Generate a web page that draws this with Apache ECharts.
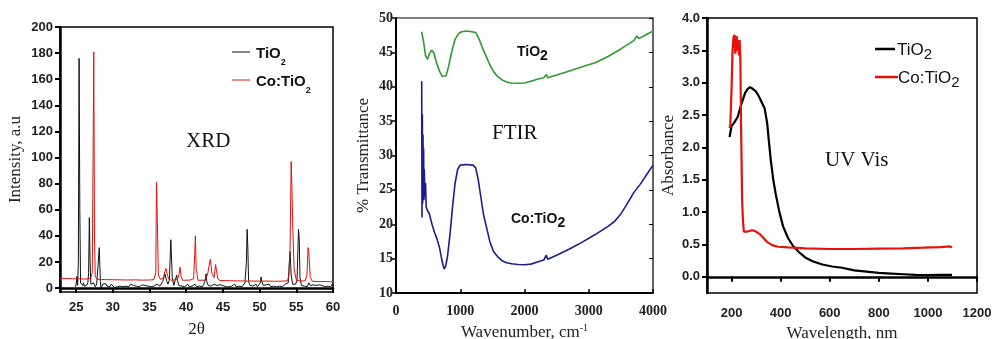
<!DOCTYPE html>
<html>
<head>
<meta charset="utf-8">
<script src="https://cdn.jsdelivr.net/npm/echarts@6/dist/echarts.min.js"></script>
<style>
  html, body { margin: 0; padding: 0; background: #fff; }
  #main { width: 992px; height: 339px; }
</style>
</head>
<body>
<div id="main"></div>
<script>
// ---- XRD panel: [2theta, intensity]
var xrdTicksX = [25, 30, 35, 40, 45, 50, 55, 60];
var xrdTicksY = [0, 20, 40, 60, 80, 100, 120, 140, 160, 180, 200];
var xrdTiO2 = [
  [24.9,1],[25.0,3],[25.1,9],[25.2,2],[25.3,20],[25.4,176],[25.5,60],[25.6,4],[25.7,5],[25.8,3],[25.9,2],[26.0,4],
  [26.1,1.5],[26.2,3],[26.4,2],[26.6,4],[26.7,12],[26.8,54],[26.9,20],[27.0,3],[27.2,2],[27.4,4],[27.6,1],[27.8,3],
  [28.0,4],[28.15,31],[28.3,5],[28.4,-1],[28.6,3],[28.8,2],[29.0,3.5],[29.2,1.5],[29.4,2.5],[29.6,1],[29.8,3],[30.0,2],
  [30.2,0.5],[30.4,2],[30.6,1],[30.8,2.5],[31.0,1.5],[31.2,3],[31.4,1],[31.6,2.5],[31.8,1.5],[32.0,2],[32.2,1],[32.4,3],
  [32.6,1.5],[32.8,2],[33.0,3.5],[33.2,1.5],[33.4,2.5],[33.6,1],[33.8,2],[34.0,2.5],[34.2,1],[34.4,2],[34.6,3],[34.8,1.5],
  [35.0,2],[35.2,1],[35.4,2.5],[35.6,1.5],[35.8,2],[36.0,3],[36.2,2],[36.4,1.5],[36.6,3],[36.8,5],[37.0,9],[37.1,11],
  [37.3,6],[37.5,3],[37.7,6],[37.9,37],[38.0,36],[38.1,8],[38.3,2],[38.5,3],[38.7,10],[38.8,6],[39.0,2],[39.2,3],
  [39.4,1.5],[39.6,2.5],[39.8,1],[40.0,2],[40.2,3],[40.4,1],[40.6,2.5],[40.8,1.5],[41.0,2],[41.2,3],[41.4,1],[41.6,2.5],
  [41.8,1.5],[42.0,2],[42.2,1],[42.4,3],[42.6,6],[42.7,11],[42.8,5],[43.0,2],[43.2,3],[43.4,1.5],[43.6,2],[43.8,3],
  [44.0,1.5],[44.2,2],[44.4,1],[44.6,2.5],[44.8,1.5],[45.0,2],[45.2,3],[45.4,1],[45.6,2],[45.8,1],[46.0,2.5],[46.2,1.5],
  [46.4,2],[46.6,3],[46.8,1],[47.0,2],[47.2,1.5],[47.4,2.5],[47.6,1],[47.8,2],[48.0,4],[48.2,20],[48.3,45],[48.4,30],
  [48.5,5],[48.7,2],[48.9,3],[49.1,1.5],[49.3,2],[49.5,3],[49.7,1],[49.9,2],[50.1,4],[50.2,8.5],[50.3,5],[50.5,2],
  [50.7,1],[50.9,2.5],[51.1,1.5],[51.3,3],[51.5,1],[51.7,2],[51.9,1.5],[52.1,3],[52.3,1],[52.5,2],[52.7,1.5],[52.9,2.5],
  [53.1,1],[53.3,2],[53.5,3],[53.7,1.5],[53.9,4],[54.05,20],[54.15,28],[54.3,10],[54.5,3],[54.7,2],[54.9,3],[55.1,6],
  [55.3,45],[55.4,38],[55.5,8],[55.7,2],[55.9,3],[56.1,1.5],[56.3,2],[56.5,1],[56.7,4],[56.9,2],[57.1,1],[57.3,2.5],
  [57.5,1.5],[57.7,2],[57.9,1],[58.1,2.5],[58.3,1.5],[58.5,2],[58.7,3],[58.9,1],[59.1,2],[59.3,1.5],[59.5,2.5],[59.7,1],
  [59.9,3],[60,2]
];
var xrdCoTiO2 = [
  [22.8,7.5],[23.5,7.4],[24.0,7.3],[24.5,7.2],[25.0,7.0],[25.5,7.1],[26.0,6.9],[26.5,7.0],[27.0,7.5],[27.2,12],[27.3,95],
  [27.4,181],[27.5,40],[27.6,9],[27.8,6.8],[28.5,6.6],[29,6.5],[30,6.4],[31,6.3],[32,6.2],[33,6.3],[34,6.1],[35,6.2],
  [35.6,6.5],[35.85,12],[35.95,81],[36.05,55],[36.2,10],[36.5,6.5],[36.9,8],[37.1,13],[37.25,15],[37.4,11],[37.6,7],
  [38.0,6],[38.8,6.5],[39.0,10],[39.15,16],[39.3,9],[39.5,6],[40.5,6.1],[41.0,7],[41.15,25],[41.25,40],[41.35,15],
  [41.6,6],[42.5,6],[42.9,10],[43.2,20],[43.3,22],[43.5,11],[43.8,8],[44.0,18],[44.1,17],[44.3,7],[44.6,5.8],[46,5.6],
  [47,5.5],[48,5.4],[49,5.4],[50,5.3],[51,5.4],[52,5.2],[53,5.3],[53.8,5.5],[54.0,10],[54.15,30],[54.3,97],[54.4,78],
  [54.5,50],[54.7,15],[55.0,6],[55.5,5.5],[56.2,5.5],[56.45,10],[56.6,31],[56.7,28],[56.9,8],[57.2,5.2],[58,5],[59,5],[60,4.8]
];

// ---- FTIR panel: [wavenumber, %T]
var ftirTiO2 = [
  [400,48],[430,46.5],[460,44.5],[490,44],[520,44.8],[556,45.3],[590,44.9],[630,43.5],[680,42.2],[720,41.5],[750,41.3],
  [780,41.6],[820,43],[870,45.2],[920,46.9],[970,47.7],[1020,48],[1100,48.1],[1180,48],[1240,47.9],[1290,47],[1340,45.8],
  [1400,44.5],[1460,43.2],[1520,42.2],[1580,41.5],[1650,41],[1720,40.7],[1800,40.55],[1900,40.5],[2000,40.55],[2100,40.8],
  [2200,41.1],[2300,41.3],[2340,41.8],[2360,41.3],[2500,41.7],[2700,42.3],[2900,42.9],[3100,43.5],[3300,44.4],[3500,45.5],
  [3700,46.7],[3750,47.4],[3780,47],[3900,47.6],[4000,48.1]
];
var ftirCoTiO2 = [
  [400,40.8],[405,21],[410,36],[415,23],[420,33],[425,25],[430,31],[435,23.5],[440,28],[450,24],[460,26],[470,22.5],
  [490,22],[520,21.5],[560,20],[600,18.8],[640,17.8],[680,16.5],[720,14.5],[750,13.5],[770,13.8],[800,15.2],[840,18.5],
  [880,22.5],[920,26],[960,28],[1000,28.6],[1100,28.7],[1200,28.6],[1240,28.2],[1280,26.5],[1320,24],[1360,21.5],
  [1410,19.5],[1460,17.5],[1520,16],[1580,15.3],[1650,14.7],[1720,14.4],[1800,14.25],[1900,14.15],[2000,14.1],[2100,14.2],
  [2200,14.5],[2300,14.8],[2340,15.5],[2360,14.9],[2500,15.5],[2700,16.4],[2900,17.4],[3100,18.5],[3300,19.7],[3400,20.4],
  [3500,21.5],[3600,23],[3700,24.6],[3800,25.8],[3900,27.2],[4000,28.6]
];

// ---- UV-Vis panel: [wavelength nm, absorbance]
var uvTicksX = [200, 400, 600, 800, 1000, 1200];
var uvTicksY = [0, 0.5, 1, 1.5, 2, 2.5, 3, 3.5, 4];
var uvTiO2 = [
  [192,2.16],[200,2.33],[210,2.38],[225,2.47],[240,2.67],[255,2.84],[265,2.9],[275,2.93],[285,2.91],[298,2.87],[310,2.8],
  [325,2.68],[335,2.6],[345,2.38],[352,2.1],[360,1.8],[370,1.5],[380,1.28],[395,1.0],[410,0.78],[430,0.6],[450,0.48],
  [475,0.38],[500,0.3],[530,0.24],[570,0.19],[610,0.16],[650,0.14],[700,0.1],[750,0.08],[800,0.06],[850,0.05],[900,0.04],
  [950,0.03],[1000,0.025],[1050,0.03],[1098,0.03]
];
var uvCoTiO2 = [
  [192,2.3],[195,2.35],[200,2.9],[204,3.5],[208,3.7],[212,3.74],[215,3.45],[218,3.5],[221,3.72],[224,3.5],[227,3.66],
  [230,3.42],[233,3.66],[236,3.35],[239,2.3],[243,1.2],[246,0.9],[250,0.7],[265,0.7],[284,0.72],[300,0.7],[315,0.66],
  [330,0.6],[345,0.54],[365,0.49],[390,0.465],[430,0.455],[500,0.44],[600,0.43],[700,0.43],[800,0.435],[900,0.44],
  [980,0.45],[1050,0.46],[1090,0.47],[1098,0.45]
];

var sans = '"Liberation Sans", Arial, sans-serif';
var serif = '"Liberation Serif", "Times New Roman", serif';
var red = '#e3120b';

function plain(v) { return String(v); }

// text with a subscript "2"
function subText(x, y, str, size, subSize, lh, weight) {
  return {
    type: 'text', left: x, top: y,
    style: {
      text: str, font: weight + ' ' + size + 'px ' + sans, fill: '#111', lineHeight: lh,
      rich: { s: { font: weight + ' ' + subSize + 'px ' + sans, fill: '#111', verticalAlign: 'bottom', lineHeight: lh } }
    }
  };
}

var chart = echarts.init(document.getElementById('main'));
var option = {
  animation: false,
  backgroundColor: '#fff',
  grid: [
    { left: 60, top: 27, width: 273, height: 265, show: true, borderColor: '#000', borderWidth: 1.5, outerBoundsMode: 'none' },
    { left: 396, top: 18, width: 257, height: 275, show: true, borderColor: '#000', borderWidth: 1.2, outerBoundsMode: 'none' },
    { left: 707, top: 18, width: 270, height: 275, show: true, borderColor: '#000', borderWidth: 1.5, outerBoundsMode: 'none' }
  ],
  xAxis: [
    {
      gridIndex: 0, type: 'value', min: 22.8, max: 60,
      name: '2θ', nameLocation: 'middle', nameGap: 29,
      nameTextStyle: { fontFamily: serif, fontSize: 17, color: '#222' },
      axisLine: { lineStyle: { color: '#000', width: 2.5 } },
      axisTick: { customValues: xrdTicksX, length: 5, lineStyle: { color: '#000', width: 2 } },
      axisLabel: { customValues: xrdTicksX, fontFamily: sans, fontWeight: 'bold', fontSize: 13, color: '#222', margin: 9 },
      splitLine: { show: false }
    },
    {
      gridIndex: 1, type: 'value', min: 0, max: 4000, interval: 1000,
      name: 'Wavenumber, cm{sup|-1}', nameLocation: 'middle', nameGap: 24,
      nameTextStyle: { fontFamily: serif, fontSize: 17, color: '#222',
        rich: { sup: { fontFamily: serif, fontSize: 10, verticalAlign: 'top', padding: [0, 0, 10, 0], color: '#222' } } },
      axisLine: { lineStyle: { color: '#000', width: 2 } },
      axisTick: { inside: true, length: 4, lineStyle: { color: '#000', width: 1.5 } },
      axisLabel: { fontFamily: serif, fontWeight: 'bold', fontSize: 14, color: '#222', margin: 11, formatter: plain },
      splitLine: { show: false }
    },
    {
      gridIndex: 2, type: 'value', min: 100, max: 1200,
      name: 'Wavelength, nm', nameLocation: 'middle', nameGap: 32,
      nameTextStyle: { fontFamily: serif, fontSize: 17, color: '#222' },
      axisLine: { lineStyle: { color: '#000', width: 2.5 } },
      axisTick: { customValues: uvTicksX, length: 5, lineStyle: { color: '#000', width: 2 } },
      axisLabel: { customValues: uvTicksX, fontFamily: sans, fontWeight: 'bold', fontSize: 13, color: '#222', margin: 14, formatter: plain },
      splitLine: { show: false }
    }
  ],
  yAxis: [
    {
      gridIndex: 0, type: 'value', min: -3, max: 200,
      name: 'Intensity, a.u', nameLocation: 'middle', nameGap: 36,
      nameTextStyle: { fontFamily: serif, fontSize: 17, color: '#222' },
      axisLine: { lineStyle: { color: '#000', width: 2.5 } },
      axisTick: { customValues: xrdTicksY, length: 5, lineStyle: { color: '#000', width: 2 } },
      axisLabel: { customValues: xrdTicksY, fontFamily: sans, fontWeight: 'bold', fontSize: 13, color: '#222', margin: 7 },
      splitLine: { show: false }
    },
    {
      gridIndex: 1, type: 'value', min: 10, max: 50, interval: 5,
      name: '% Transmittance', nameLocation: 'middle', nameGap: 24,
      nameTextStyle: { fontFamily: serif, fontSize: 17, color: '#222' },
      axisLine: { lineStyle: { color: '#000', width: 2 } },
      axisTick: { length: 4, lineStyle: { color: '#000', width: 1.5 } },
      axisLabel: { fontFamily: serif, fontWeight: 'bold', fontSize: 14, color: '#222', margin: 3 },
      splitLine: { show: false }
    },
    {
      gridIndex: 1, type: 'value', min: 10, max: 50, interval: 5, position: 'right',
      axisLine: { show: false },
      axisTick: { inside: true, length: 4, lineStyle: { color: '#000', width: 1 } },
      axisLabel: { show: false },
      splitLine: { show: false }
    },
    {
      gridIndex: 2, type: 'value', min: -0.25, max: 4,
      name: 'Absorbance', nameLocation: 'middle', nameGap: 30,
      nameTextStyle: { fontFamily: serif, fontSize: 17, color: '#222' },
      axisLine: { lineStyle: { color: '#000', width: 2.5 } },
      axisTick: { customValues: uvTicksY, length: 5, lineStyle: { color: '#000', width: 2 } },
      axisLabel: { customValues: uvTicksY, fontFamily: sans, fontWeight: 'bold', fontSize: 13, color: '#222', margin: 7,
        formatter: function (v) { return v.toFixed(1); } },
      splitLine: { show: false }
    }
  ],
  graphic: [
    { type: 'text', left: 186, top: 131, style: { text: 'XRD', font: '21px ' + serif, fill: '#111' } },
    { type: 'text', left: 492, top: 123, style: { text: 'FTIR', font: '21px ' + serif, fill: '#111' } },
    { type: 'text', left: 825, top: 150, style: { text: 'UV Vis', font: '21px ' + serif, fill: '#111' } },
    // XRD legend
    { type: 'line', shape: { x1: 232, y1: 52, x2: 250, y2: 52 }, style: { stroke: '#111', lineWidth: 1 } },
    { type: 'line', shape: { x1: 232, y1: 80, x2: 250, y2: 80 }, style: { stroke: red, lineWidth: 1 } },
    subText(256, 41, 'TiO{s|2}', 15, 9, 26, 'bold'),
    subText(256, 69, 'Co:TiO{s|2}', 15, 9, 26, 'bold'),
    // FTIR curve labels
    subText(517, 42, 'TiO{s|2}', 14, 14, 21, 'bold'),
    subText(511, 209, 'Co:TiO{s|2}', 14, 14, 21, 'bold'),
    // UV legend
    { type: 'line', shape: { x1: 875, y1: 49, x2: 895, y2: 49 }, style: { stroke: '#000', lineWidth: 2.5 } },
    { type: 'line', shape: { x1: 875, y1: 77, x2: 898, y2: 77 }, style: { stroke: red, lineWidth: 2.5 } },
    subText(897, 38, 'TiO{s|2}', 17, 15, 24, 'normal'),
    subText(898, 66, 'Co:TiO{s|2}', 17, 15, 24, 'normal')
  ],
  series: [
    { name: 'TiO2 XRD', type: 'line', xAxisIndex: 0, yAxisIndex: 0, data: xrdTiO2, symbol: 'none',
      lineStyle: { color: '#111', width: 1 } },
    { name: 'Co:TiO2 XRD', type: 'line', xAxisIndex: 0, yAxisIndex: 0, data: xrdCoTiO2, symbol: 'none',
      lineStyle: { color: red, width: 1 } },
    { name: 'TiO2 FTIR', type: 'line', xAxisIndex: 1, yAxisIndex: 1, data: ftirTiO2, symbol: 'none',
      lineStyle: { color: '#2f9a2f', width: 1.6 } },
    { name: 'Co:TiO2 FTIR', type: 'line', xAxisIndex: 1, yAxisIndex: 1, data: ftirCoTiO2, symbol: 'none',
      lineStyle: { color: '#1c1c8e', width: 1.6 } },
    { name: 'TiO2 UV', type: 'line', xAxisIndex: 2, yAxisIndex: 3, data: uvTiO2, symbol: 'none',
      lineStyle: { color: '#000', width: 2.2 } },
    { name: 'Co:TiO2 UV', type: 'line', xAxisIndex: 2, yAxisIndex: 3, data: uvCoTiO2, symbol: 'none',
      lineStyle: { color: red, width: 2.2 } }
  ]
};
chart.setOption(option);
</script>
</body>
</html>
